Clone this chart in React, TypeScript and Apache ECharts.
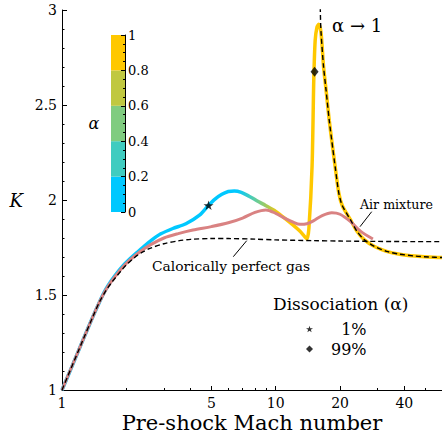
import React, { useEffect, useRef } from 'react';
import * as echarts from 'echarts';

// ---- data ----
const mainMach = [1, 1.1, 1.25, 1.4, 1.5, 1.6, 1.7, 1.8, 1.9, 2.0, 2.2, 2.4, 2.6, 2.9, 3.3, 3.8, 4.4, 4.85, 5.2, 5.6, 6.0, 6.4, 6.9, 7.5, 8.2, 9.0, 10, 11, 12, 13, 13.6, 14.0, 14.3, 14.8, 15.07, 15.3, 15.6, 15.9, 16.3, 16.75, 17.2, 17.8, 18.5, 19.0, 19.75, 20.5, 22.4, 24, 26, 29, 33, 38, 45, 52, 60];
const mainK = [1.0, 1.11, 1.26, 1.39, 1.465, 1.528, 1.575, 1.613, 1.645, 1.672, 1.715, 1.752, 1.785, 1.822, 1.85, 1.875, 1.92, 1.972, 2.005, 2.03, 2.045, 2.047, 2.04, 2.02, 1.995, 1.97, 1.94, 1.905, 1.87, 1.835, 1.81, 1.795, 1.85, 2.18, 2.63, 2.84, 2.91, 2.925, 2.88, 2.7, 2.58, 2.42, 2.27, 2.17, 2.035, 1.97, 1.895, 1.835, 1.79, 1.755, 1.73, 1.715, 1.705, 1.7, 1.697];

const airMach = [1, 1.25, 1.4, 1.5, 1.6, 1.7, 1.8, 1.9, 2.0, 2.3, 2.6, 3.0, 3.5, 4.1, 5.0, 6.0, 7.0, 8.0, 9.0, 10.0, 11.0, 12.0, 13.0, 14.0, 15.0, 16.5, 18.3, 20, 22.4, 25, 28.5];
const airK = [1.0, 1.26, 1.39, 1.465, 1.525, 1.57, 1.607, 1.64, 1.667, 1.725, 1.765, 1.8, 1.823, 1.842, 1.86, 1.88, 1.905, 1.935, 1.948, 1.93, 1.905, 1.885, 1.872, 1.875, 1.89, 1.918, 1.933, 1.925, 1.886, 1.835, 1.795];

const perfectMach = [1, 1.25, 1.4, 1.5, 1.6, 1.7, 1.8, 1.9, 2.0, 2.2, 2.4, 2.6, 3.0, 3.5, 4.0, 5.0, 6.0, 8.0, 10, 15, 20, 30, 45, 60];
const perfectK = [1.0, 1.26, 1.39, 1.465, 1.52, 1.563, 1.598, 1.63, 1.658, 1.7, 1.728, 1.747, 1.77, 1.785, 1.793, 1.797, 1.797, 1.794, 1.79, 1.786, 1.784, 1.782, 1.781, 1.781];

// alpha -> 1 limit: vertical asymptote, then follows the main curve
const limitHeadMach = [16.12, 16.2];
const limitHeadK = [3.1, 2.96];
const limitJoinMach = 16.3;

const starMach = [4.85];
const starK = [1.972];
const diamondMach = [15.2];
const diamondK = [2.675];

const xMajorTicks = [1, 5, 10, 20, 40];
const xMinorTicks = [2, 3, 4, 6, 7, 8, 9, 30, 50];

const alphaBounds = [0, 0.2, 0.4, 0.6, 0.8, 1];
const alphaColors = ['#00c8ff', '#40ccc0', '#80cc80', '#c0c840', '#ffc800'];
const alphaMachRange = [6.6, 10.4];

const FONT = 'DejaVu Serif';
const STAR = 'path://M0,-10L2.245,-3.09L9.511,-3.09L3.633,1.18L5.878,8.09L0,3.82L-5.878,8.09L-3.633,1.18L-9.511,-3.09L-2.245,-3.09Z';

const zip = (xs: number[], ys: number[]) => xs.map((x, i) => [x, ys[i]]);

export default function App() {
  const ref = useRef<HTMLDivElement>(null);
  useEffect(() => {
    document.body.style.margin = '0';
    if (!ref.current) return;
    const chart = echarts.init(ref.current, undefined, { renderer: 'svg' });

    const joinIdx = mainMach.findIndex((m) => m >= limitJoinMach);
    const limitData = zip(limitHeadMach, limitHeadK).concat(
      zip(mainMach.slice(joinIdx), mainK.slice(joinIdx))
    );

    const cbSeries = alphaColors.map((c, i) => ({
      type: 'bar',
      xAxisIndex: 2,
      yAxisIndex: 1,
      stack: 'cb',
      barWidth: '100%',
      silent: true,
      data: [alphaBounds[i + 1] - alphaBounds[i]],
      itemStyle: { color: c },
    }));

    const black = { color: '#000', width: 1 };

    chart.setOption({
      animation: false,
      backgroundColor: '#fff',
      textStyle: { fontFamily: FONT },
      grid: [
        { left: 62, right: 0, top: 10, bottom: 44, outerBoundsMode: 'none' },
        { left: 111, top: 35, width: 14, height: 177, outerBoundsMode: 'none' },
      ],
      xAxis: [
        {
          type: 'log',
          logBase: 10,
          gridIndex: 0,
          min: 1,
          max: 60,
          axisLine: { show: true, lineStyle: black },
          axisTick: { show: true, customValues: xMajorTicks, inside: true, length: 4, lineStyle: black },
          axisLabel: { customValues: xMajorTicks, fontSize: 14, fontFamily: FONT, color: '#000', margin: 6 },
          splitLine: { show: false },
          minorTick: { show: false },
          name: 'Pre-shock Mach number',
          nameLocation: 'middle',
          nameGap: 22,
          nameMoveOverlap: false,
          nameTextStyle: { fontSize: 21, lineHeight: 21, fontFamily: FONT, color: '#000' },
        },
        {
          type: 'log',
          logBase: 10,
          gridIndex: 0,
          position: 'bottom',
          offset: 0,
          min: 1,
          max: 60,
          axisLine: { show: false },
          axisTick: { show: true, customValues: xMinorTicks, inside: true, length: 2, lineStyle: black },
          axisLabel: { show: false },
          splitLine: { show: false },
        },
        {
          type: 'category',
          gridIndex: 1,
          data: ['α'],
          show: false,
        },
      ],
      yAxis: [
        {
          type: 'value',
          gridIndex: 0,
          min: 1,
          max: 3,
          interval: 0.5,
          axisLine: { show: true, lineStyle: black },
          axisTick: { show: true, inside: true, length: 5, lineStyle: black },
          minorTick: { show: true, splitNumber: 5, length: 2.5, lineStyle: black },
          axisLabel: { fontSize: 14, fontFamily: FONT, color: '#000', margin: 5 },
          splitLine: { show: false },
          name: 'K',
          nameLocation: 'middle',
          nameRotate: 0,
          nameGap: 39,
          nameTextStyle: { fontSize: 18, fontStyle: 'italic', fontFamily: FONT, color: '#000' },
        },
        {
          type: 'value',
          gridIndex: 1,
          position: 'right',
          min: 0,
          max: 1,
          interval: 0.2,
          z: 10,
          axisLine: { show: true, lineStyle: black },
          axisTick: { show: true, inside: true, length: 4, lineStyle: black },
          minorTick: { show: true, splitNumber: 4, length: 2, lineStyle: black },
          axisLabel: { fontSize: 13, fontFamily: FONT, color: '#000', margin: 3 },
          splitLine: { show: false },
        },
      ],
      visualMap: {
        type: 'continuous',
        show: false,
        seriesIndex: 0,
        dimension: 0,
        min: alphaMachRange[0],
        max: alphaMachRange[1],
        inRange: { color: alphaColors },
      },
      legend: {
        data: ['1%', '99%'],
        orient: 'vertical',
        left: 301,
        top: 316,
        itemWidth: 7,
        itemHeight: 7,
        itemGap: 4,
        formatter: (n: string) => (n === '1%' ? '\u20071%' : n),
        textStyle: { fontSize: 16, fontFamily: FONT, color: '#000', padding: [0, 0, 0, 13] },
      },
      graphic: [
        { type: 'text', style: { text: 'α → 1', x: 332, y: 25, font: `18px "${FONT}"`, fill: '#000', verticalAlign: 'middle' } },
        { type: 'text', style: { text: 'Air mixture', x: 360, y: 204, font: `12.6px "${FONT}"`, fill: '#000', verticalAlign: 'middle' } },
        { type: 'line', shape: { x1: 371.7, y1: 211.7, x2: 360, y2: 226.7 }, style: { stroke: '#000', lineWidth: 1 } },
        { type: 'text', style: { text: 'Calorically perfect gas', x: 152, y: 266, font: `13.8px "${FONT}"`, fill: '#000', verticalAlign: 'middle' } },
        { type: 'line', shape: { x1: 233.3, y1: 256.7, x2: 246.7, y2: 240.7 }, style: { stroke: '#000', lineWidth: 1 } },
        { type: 'text', style: { text: 'Dissociation (α)', x: 273, y: 304, font: `17px "${FONT}"`, fill: '#000', verticalAlign: 'middle' } },
        { type: 'text', style: { text: 'α', x: 94, y: 123, font: `italic 16px "${FONT}"`, fill: '#000', align: 'center', verticalAlign: 'middle' } },
      ],
      series: [
        {
          name: 'alpha',
          type: 'line',
          data: zip(mainMach, mainK),
          smooth: 0.25,
          symbol: 'none',
          lineStyle: { width: 3.5 },
          z: 2,
        },
        {
          name: 'Air mixture',
          type: 'line',
          data: zip(airMach, airK),
          smooth: 0.3,
          symbol: 'none',
          lineStyle: { width: 3, color: '#d98282' },
          itemStyle: { color: '#d98282' },
          z: 3,
        },
        {
          name: 'Calorically perfect gas',
          type: 'line',
          data: zip(perfectMach, perfectK),
          smooth: 0.3,
          symbol: 'none',
          lineStyle: { width: 1.4, color: '#000', type: [5, 3] },
          z: 4,
        },
        {
          name: 'limit',
          type: 'line',
          data: limitData,
          smooth: 0.25,
          symbol: 'none',
          clip: true,
          lineStyle: { width: 1.4, color: '#000', type: [5, 3] },
          z: 5,
        },
        {
          name: '1%',
          type: 'scatter',
          data: zip(starMach, starK),
          symbol: STAR,
          symbolKeepAspect: true,
          symbolSize: 10,
          itemStyle: { color: '#000' },
          z: 6,
        },
        {
          name: '99%',
          type: 'scatter',
          data: zip(diamondMach, diamondK),
          symbol: 'diamond',
          symbolSize: [8, 10],
          itemStyle: { color: '#000' },
          z: 6,
        },
        ...cbSeries,
      ],
    });
    return () => chart.dispose();
  }, []);
  return <div ref={ref} style={{ position: 'absolute', left: 0, top: 0, width: 442, height: 434 }} />;
}
